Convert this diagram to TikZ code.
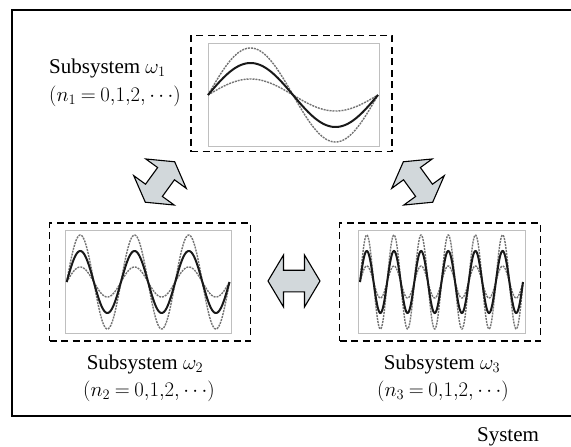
\documentclass[tikz,border=0pt]{standalone}
\usepackage{fontspec}
\setmainfont{Liberation Serif}
\newcommand{\nlab}[1]{$(n_{#1}\mskip4mu{=}\mskip4mu 0{,}1{,}2{,}\,{\cdots})$}
\begin{document}
\begin{tikzpicture}[x=1pt,y=-1pt,
  outerbox/.style={line width=1.8pt,draw=black},
  dbox/.style={draw=black,line width=1.8pt,dash pattern=on 7pt off 4.5pt,minimum width=201pt,minimum height=116pt,inner sep=0pt},
  frame/.style={draw=black!25,line width=0.8pt,inner sep=0pt},
  mainwave/.style={line width=2pt,draw=black!90},
  graywave/.style={line width=1.4pt,draw=black!55,dash pattern=on 2pt off 1pt},
  blockarrow/.style={draw=black,line width=1.1pt,fill={rgb,255:red,210;green,216;blue,219},line join=miter},
  lab/.style={font=\fontsize{21}{25}\selectfont,inner sep=0pt}
]
\useasboundingbox (0,0) rectangle (571,447);
\clip (0,0) rectangle (571,447);
% outer system box (right edge beyond picture)
\draw[outerbox] (600,10) -- (12,10) -- (12,416) -- (600,416);

% dashed subsystem boxes
\node[dbox] (box1) at (291.5,93.5) {};
\node[dbox, minimum height=118pt] (box2) at (150,282) {};
\node[dbox, minimum height=118pt] (box3) at (440,282) {};

% plot frames
\node[frame, minimum width=171pt, minimum height=103pt] (f1) at (293.5,95) {};
\node[frame, minimum width=166pt, minimum height=103pt] (f2) at (148.5,282) {};
\node[frame, minimum width=167pt, minimum height=103pt] (f3) at (441.5,282) {};

% waves subsystem 1
\draw[graywave] plot[domain=0:360,samples=120,smooth] ({208+\x/360*170},{95-47*sin(\x)});
\draw[graywave] plot[domain=0:360,samples=120,smooth] ({208+\x/360*170},{95-16*sin(\x)});
\draw[mainwave] plot[domain=0:360,samples=120,smooth] ({208+\x/360*170},{95-32*sin(\x)});
% waves subsystem 2
\draw[graywave] plot[domain=0:1080,samples=240,smooth] ({66.7+\x/1080*162.8},{282-47*sin(\x)});
\draw[graywave] plot[domain=0:1080,samples=240,smooth] ({66.7+\x/1080*162.8},{282-15*sin(\x)});
\draw[mainwave] plot[domain=0:1080,samples=240,smooth] ({66.7+\x/1080*162.8},{282-31*sin(\x)});
% waves subsystem 3
\draw[graywave] plot[domain=0:2160,samples=400,smooth] ({360+\x/2160*163},{282-47*sin(\x)});
\draw[graywave] plot[domain=0:2160,samples=400,smooth] ({360+\x/2160*163},{282-16*sin(\x)});
\draw[mainwave] plot[domain=0:2160,samples=400,smooth] ({360+\x/2160*163},{282-31*sin(\x)});

% double block arrows
\draw[blockarrow, shift={(160,182)}, rotate=54]
  (25,0) -- (10.3,25) -- (10.3,10.4) -- (-10.3,10.4) -- (-10.3,25) -- (-25,0)
  -- (-10.3,-25) -- (-10.3,-10.4) -- (10.3,-10.4) -- (10.3,-25) -- cycle;
\draw[blockarrow, shift={(418,182)}, rotate=-54]
  (25,0) -- (10.3,25) -- (10.3,10.4) -- (-10.3,10.4) -- (-10.3,25) -- (-25,0)
  -- (-10.3,-25) -- (-10.3,-10.4) -- (10.3,-10.4) -- (10.3,-25) -- cycle;
\draw[blockarrow, shift={(294,281)}]
  (26,0) -- (10.5,26) -- (10.5,10.8) -- (-10.5,10.8) -- (-10.5,26) -- (-26,0)
  -- (-10.5,-26) -- (-10.5,-10.8) -- (10.5,-10.8) -- (10.5,-26) -- cycle;

% labels
\node[lab, anchor=west] (l1a) at (49,68) {Subsystem $\omega_1$};
\node[lab, anchor=west] (l1b) at (49,96) {\nlab{1}};
\node[lab] (l2a) at (145,364) {Subsystem $\omega_2$};
\node[lab] (l2b) at (149,391) {\nlab{2}};
\node[lab] (l3a) at (442,364) {Subsystem $\omega_3$};
\node[lab] (l3b) at (443,391) {\nlab{3}};
\node[lab] (sys) at (508,437) {System};
\end{tikzpicture}
\end{document}
